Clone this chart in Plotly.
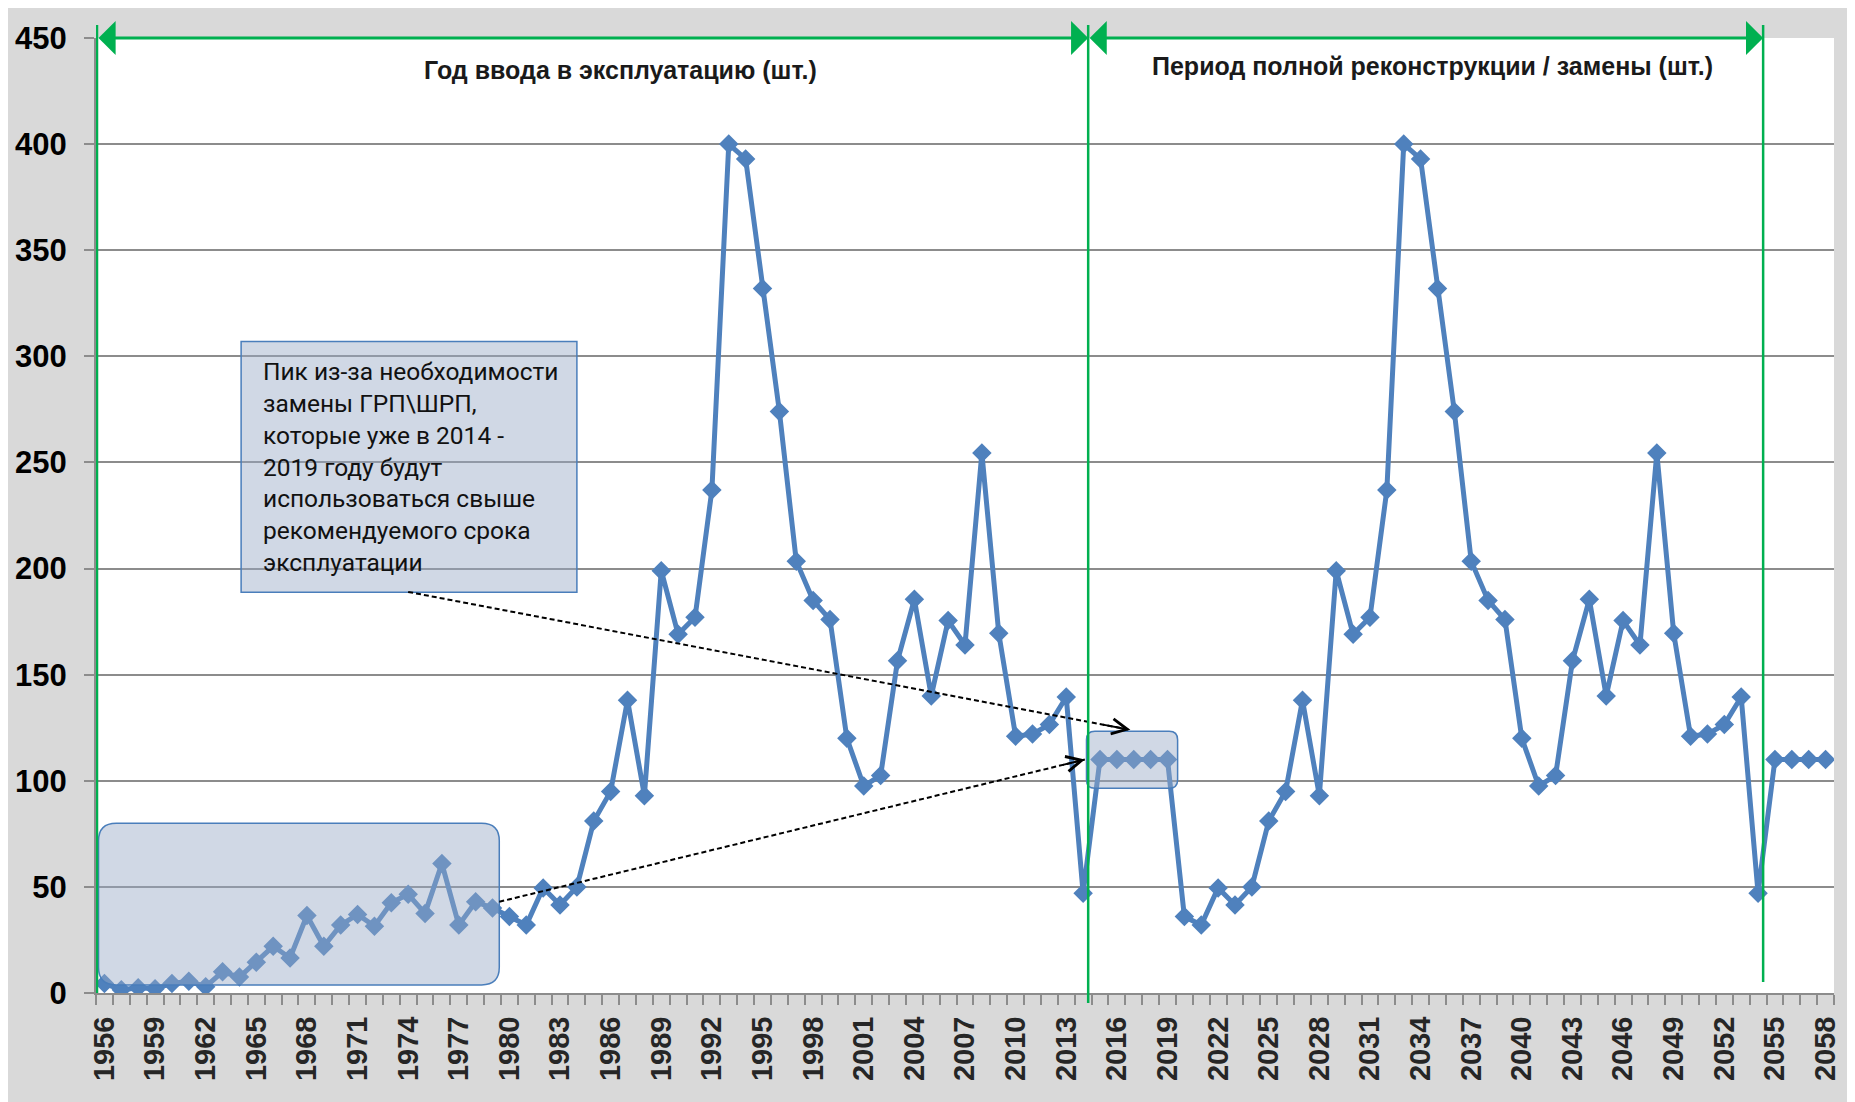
import plotly.graph_objects as go

# ---------------- data ----------------
years = list(range(1956, 2059))
units = [
    # 1956-1979
    4.5, 1.5, 2.5, 2, 4.5, 5.5, 3, 10, 7.5, 14.5, 22, 16.5, 36.5, 22, 32, 37, 31.5, 42.5, 46.5, 37.5, 61, 32, 43, 40,
    # 1980-2014
    36, 32, 49.5, 41.5, 50, 81, 95, 138, 93, 199, 169, 177, 237, 400, 393, 332, 274, 203.5, 185, 176, 120, 97.5,
    102.5, 156.5, 185.5, 140, 175.5, 164, 254.5, 169.5, 121, 122, 126.5, 139.5, 47,
    # 2015-2019
    110, 110, 110, 110, 110,
    # 2020-2054
    36, 32, 49.5, 41.5, 50, 81, 95, 138, 93, 199, 169, 177, 237, 400, 393, 332, 274, 203.5, 185, 176, 120, 97.5,
    102.5, 156.5, 185.5, 140, 175.5, 164, 254.5, 169.5, 121, 122, 126.5, 139.5, 47,
    # 2055-2058
    110, 110, 110, 110,
]
tick_years = list(range(1956, 2059, 3))
y_ticks = list(range(0, 451, 50))

title_left = "Год ввода в эксплуатацию (шт.)"
title_right = "Период полной реконструкции / замены (шт.)"
note_text = ("Пик из-за необходимости<br>замены ГРП\\ШРП,<br>которые уже в 2014 -<br>2019 году будут<br>"
             "использоваться свыше<br>рекомендуемого срока<br>эксплуатации")

# ---------------- styles ----------------
BLUE = "#4F81BD"
GREEN = "#00B050"
GRID = "#8C8C8C"
BG = "#D9D9D9"
BOX_FILL = "rgba(150,168,198,0.45)"
BOX_LINE = "#4A7EBB"

fig = go.Figure()
fig.add_trace(go.Scatter(
    x=years, y=units, mode="lines+markers",
    line=dict(color=BLUE, width=5),
    marker=dict(symbol="diamond", size=15, color=BLUE),
    showlegend=False, hoverinfo="x+y",
))


def rounded_rect(x0, x1, y0, y1, rx, ry):
    return (f"M {x0+rx},{y0} L {x1-rx},{y0} Q {x1},{y0} {x1},{y0+ry} "
            f"L {x1},{y1-ry} Q {x1},{y1} {x1-rx},{y1} L {x0+rx},{y1} "
            f"Q {x0},{y1} {x0},{y1-ry} L {x0},{y0+ry} Q {x0},{y0} {x0+rx},{y0} Z")


shapes = []
# translucent highlight boxes
shapes.append(dict(type="path", xref="x", yref="y", layer="above",
                   path=rounded_rect(1955.65, 1979.4, 3.8, 80, 1.05, 8.3),
                   fillcolor=BOX_FILL, line=dict(color=BOX_LINE, width=1.5)))
shapes.append(dict(type="path", xref="x", yref="y", layer="above",
                   path=rounded_rect(2014.2, 2019.6, 96.5, 123.3, 0.5, 4.0),
                   fillcolor=BOX_FILL, line=dict(color=BOX_LINE, width=1.5)))
# note box
shapes.append(dict(type="rect", xref="x", yref="y", layer="above",
                   x0=1964.1, x1=1984.0, y0=188.8, y1=307,
                   fillcolor=BOX_FILL, line=dict(color=BOX_LINE, width=1.5)))
# dashed connector lines
shapes.append(dict(type="line", xref="x", yref="y", layer="above",
                   x0=1974.0, y0=189, x1=2016.8, y1=124,
                   line=dict(color="black", width=2, dash="5px,3px")))
shapes.append(dict(type="line", xref="x", yref="y", layer="above",
                   x0=1979.4, y0=43, x1=2014.1, y1=110,
                   line=dict(color="black", width=2, dash="5px,3px")))
# green vertical period boundaries
shapes.append(dict(type="line", xref="x", yref="paper", layer="above",
                   x0=1955.56, x1=1955.56, y0=0, y1=1.0136, line=dict(color=GREEN, width=2.5)))
shapes.append(dict(type="line", xref="x", yref="paper", layer="above",
                   x0=2014.3, x1=2014.3, y0=-0.0105, y1=1.0136, line=dict(color=GREEN, width=2.5)))
shapes.append(dict(type="line", xref="x", yref="paper", layer="above",
                   x0=2054.3, x1=2054.3, y0=0.0115, y1=1.0136, line=dict(color=GREEN, width=2.5)))

annotations = []
# green double arrows
for tail, tip in [(1955.56, 2014.3), (2014.3, 2054.3)]:
    annotations.append(dict(x=tip, y=450, ax=tail, ay=450, xref="x", yref="y", axref="x", ayref="y",
                            text="", showarrow=True, arrowside="end+start",
                            arrowhead=1, startarrowhead=1, arrowsize=1.9, startarrowsize=1.9,
                            arrowwidth=3, arrowcolor=GREEN))
# arrowheads for the dashed connectors
for (sx, sy), (ex, ey) in [((1974.0, 189), (2016.8, 124)), ((1979.4, 43), (2014.1, 110))]:
    annotations.append(dict(x=ex, y=ey, ax=ex + 0.04 * (sx - ex), ay=ey + 0.04 * (sy - ey),
                            xref="x", yref="y", axref="x", ayref="y",
                            text="", showarrow=True, arrowhead=5, arrowsize=1.5,
                            arrowwidth=2, arrowcolor="black"))
# titles
title_font = dict(family="Liberation Sans, Arial", size=25, color="#1a1a1a", weight="bold")
annotations.append(dict(x=1986.6, y=0.966, xref="x", yref="paper", text=title_left,
                        showarrow=False, font=title_font, xanchor="center", yanchor="middle"))
annotations.append(dict(x=2034.7, y=0.971, xref="x", yref="paper", text=title_right,
                        showarrow=False, font=title_font, xanchor="center", yanchor="middle"))
# note text
annotations.append(dict(x=1965.25, y=248, xref="x", yref="y", text=note_text, showarrow=False,
                        align="left", xanchor="left", yanchor="middle",
                        font=dict(family="Roboto, Open Sans, sans-serif", size=24.5, color="#111111")))

fig.update_layout(
    width=1847, height=1094,
    margin=dict(l=88, r=21, t=30, b=109),
    paper_bgcolor=BG, plot_bgcolor="white",
    shapes=shapes, annotations=annotations,
    showlegend=False,
)
fig.update_xaxes(
    range=[1955.5, 2058.5], tickmode="array", tickvals=tick_years,
    ticktext=[str(y) for y in tick_years], tickangle=-90, ticks="",
    tickfont=dict(family="Liberation Sans, Arial", size=29, color="#262626", weight="bold"),
    ticklabelstandoff=10, automargin=False,
    showgrid=False, zeroline=False, showline=True, linecolor=GRID, linewidth=2,
    minor=dict(tickmode="linear", tick0=1955.5, dtick=1, ticks="outside", ticklen=10,
               tickwidth=1.5, tickcolor=GRID, showgrid=False),
)
fig.update_yaxes(
    range=[0, 450], tickmode="array", tickvals=y_ticks, ticks="outside", ticklen=10,
    tickwidth=1.5, tickcolor=GRID,
    tickfont=dict(family="Liberation Sans, Arial", size=31, color="black", weight="bold"),
    ticklabelstandoff=11, automargin=False,
    showgrid=True, gridcolor=GRID, gridwidth=2, zeroline=False,
    showline=True, linecolor=GRID, linewidth=2,
)

fig.write_html("out.html")
